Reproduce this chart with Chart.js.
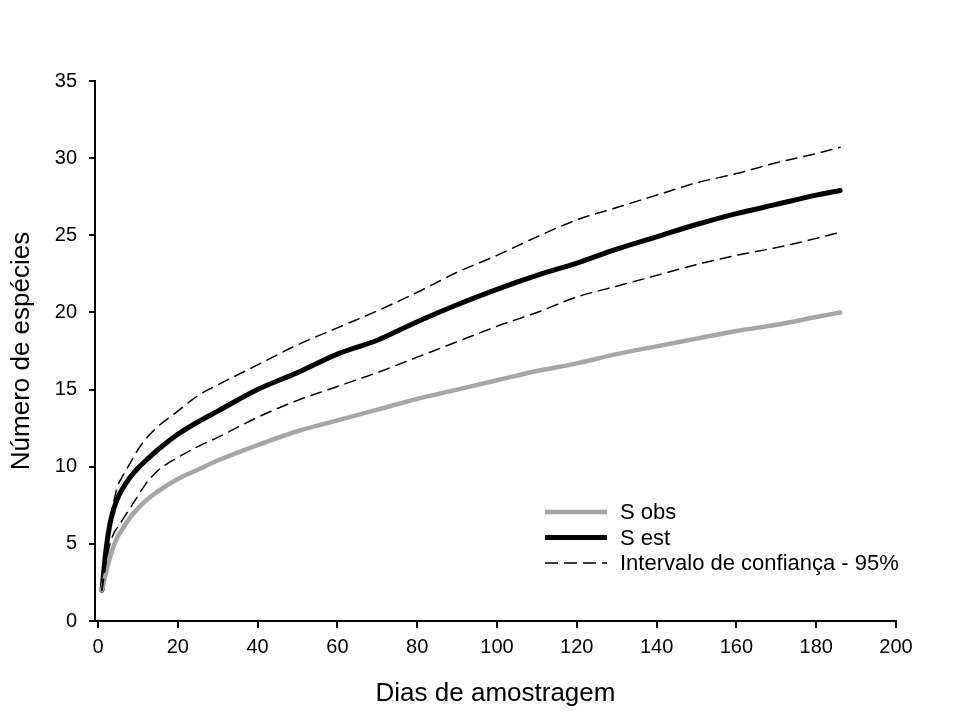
<!DOCTYPE html>
<html>
<head>
<meta charset="utf-8">
<script src="https://cdn.jsdelivr.net/npm/chart.js@4.4.1/dist/chart.umd.min.js"></script>
<style>
  html, body { margin: 0; padding: 0; background: #fff; }
  #chart { display: block; }
</style>
</head>
<body>
<canvas id="chart" width="968" height="716"></canvas>
<script>
// dias de amostragem
var dias = [1, 2, 3, 4, 5, 6, 8, 10, 12, 15, 20, 25, 30, 40, 50, 60, 70, 80, 90, 100, 110, 120, 130, 140, 150, 160, 170, 180, 186];
var sObs = [2.0, 3.1, 4.1, 4.9, 5.5, 5.9, 6.7, 7.3, 7.8, 8.4, 9.2, 9.8, 10.4, 11.4, 12.3, 13.0, 13.7, 14.4, 15.0, 15.6, 16.2, 16.7, 17.3, 17.8, 18.3, 18.8, 19.2, 19.7, 20.0];
var sEst = [2.0, 4.6, 6.3, 7.3, 8.0, 8.5, 9.3, 9.9, 10.4, 11.1, 12.1, 12.9, 13.6, 15.0, 16.1, 17.3, 18.2, 19.4, 20.5, 21.5, 22.4, 23.2, 24.1, 24.9, 25.7, 26.4, 27.0, 27.6, 27.9];
var icSup = [2.0, 5.0, 6.6, 7.8, 8.8, 9.3, 10.2, 11.1, 11.8, 12.6, 13.6, 14.6, 15.3, 16.6, 17.9, 19.0, 20.1, 21.3, 22.6, 23.7, 24.9, 26.0, 26.8, 27.6, 28.4, 29.0, 29.7, 30.3, 30.7];
var icInf = [2.0, 3.7, 5.0, 5.7, 6.1, 6.5, 7.3, 8.1, 8.9, 9.75, 10.6, 11.3, 11.9, 13.2, 14.3, 15.2, 16.1, 17.1, 18.1, 19.1, 20.0, 21.0, 21.7, 22.4, 23.1, 23.7, 24.2, 24.8, 25.2];
var xTicks = [0, 20, 40, 60, 80, 100, 120, 140, 160, 180, 200];
var yTicks = [0, 5, 10, 15, 20, 25, 30, 35];

var FONT = '"Liberation Sans", Arial, sans-serif';

function pts(ys) {
  return dias.map(function (d, i) { return { x: d, y: ys[i] }; });
}

// legenda desenhada dentro da area do grafico
var legendaPlugin = {
  id: "legenda",
  afterDraw: function (chart) {
    var ctx = chart.ctx,
      itens = [
        { txt: "S obs", cor: "#a6a6a6", w: 4.5, dash: [] },
        { txt: "S est", cor: "#000", w: 5, dash: [] },
        { txt: "Intervalo de confiança - 95%", cor: "#000", w: 1.5, dash: [13, 6] },
      ];
    ctx.save();
    ctx.font = "22px " + FONT;
    ctx.textBaseline = "middle";
    ctx.fillStyle = "#000";
    itens.forEach(function (it, i) {
      var y = 512 + i * 25.5;
      ctx.beginPath();
      ctx.setLineDash(it.dash);
      ctx.lineWidth = it.w;
      ctx.strokeStyle = it.cor;
      ctx.lineCap = "butt";
      ctx.moveTo(545, y);
      ctx.lineTo(607, y);
      ctx.stroke();
      ctx.setLineDash([]);
      ctx.fillText(it.txt, 620, y + 1);
    });
    ctx.restore();
  },
};

new Chart(document.getElementById("chart").getContext("2d"), {
  type: "line",
  data: {
    datasets: [
      { label: "IC sup", data: pts(icSup), borderColor: "#000", borderWidth: 1.5, borderDash: [11, 7] },
      { label: "IC inf", data: pts(icInf), borderColor: "#000", borderWidth: 1.5, borderDash: [11, 7] },
      { label: "S obs", data: pts(sObs), borderColor: "#a6a6a6", borderWidth: 4.5 },
      { label: "S est", data: pts(sEst), borderColor: "#000", borderWidth: 5 },
    ],
  },
  options: {
    responsive: false,
    animation: false,
    layout: { padding: { left: 0, top: 81, right: 72, bottom: 0 } },
    elements: {
      point: { radius: 0 },
      line: { cubicInterpolationMode: "monotone", fill: false, borderCapStyle: "round" },
    },
    plugins: { legend: { display: false }, tooltip: { enabled: false } },
    scales: {
      x: {
        type: "linear",
        min: -0.75,
        max: 200,
        afterBuildTicks: function (s) { s.ticks = xTicks.map(function (v) { return { value: v }; }); },
        afterFit: function (s) { s.height = 95; },
        grid: { drawOnChartArea: false, drawTicks: true, tickLength: 7, color: "#000", lineWidth: 2 },
        border: { display: true, color: "#000", width: 2 },
        ticks: { color: "#000", font: { family: FONT, size: 20 }, padding: 7, maxRotation: 0 },
        title: { display: true, text: "Dias de amostragem", color: "#000", font: { family: FONT, size: 26 }, padding: { top: 0, bottom: 7 } },
      },
      y: {
        min: 0,
        max: 35,
        afterBuildTicks: function (s) { s.ticks = yTicks.map(function (v) { return { value: v }; }); },
        afterFit: function (s) { s.width = 95; },
        grid: { drawOnChartArea: false, drawTicks: true, tickLength: 6, color: "#000", lineWidth: 2 },
        border: { display: true, color: "#000", width: 2 },
        ticks: { color: "#000", font: { family: FONT, size: 20 }, padding: 12 },
        title: { display: true, text: "Número de espécies", color: "#000", font: { family: FONT, size: 26 }, padding: { top: 6, bottom: 0 } },
      },
    },
  },
  plugins: [legendaPlugin],
});
</script>
</body>
</html>
